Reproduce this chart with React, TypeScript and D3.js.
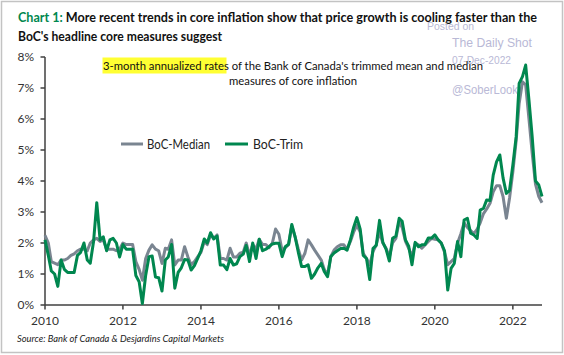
import React from "react";
import * as d3 from "d3";

const startYear = 2010;
const startMonth = 0;

const trimValues: number[] = [
  2.1, 1.6, 1.1, 1.0, 0.6, 1.45, 1.15, 1.05, 1.05, 1.05, 1.6, 1.7,
  2.0, 1.45, 1.35, 2.05, 3.3, 2.1, 2.2, 1.75, 2.1, 2.15, 2.0, 1.55,
  1.95, 1.8, 1.8, 1.8, 0.95, 0.75, 0.05, 0.95, 1.56, 1.58, 0.9, 0.88,
  0.45, 1.45, 1.55, 1.95, 0.54, 1.05, 1.2, 1.47, 1.45, 1.13, 1.27, 1.5,
  1.75, 2.13, 2.0, 2.33, 2.13, 2.22, 1.29, 1.29, 1.14, 1.5, 1.29, 1.33,
  1.56, 1.64, 1.92, 1.4, 2.0, 1.5, 2.12, 1.75, 1.8, 1.88, 1.97, 1.99,
  1.99, 1.56, 1.88, 1.96, 2.6, 2.2, 1.7, 1.24, 1.24, 1.3, 0.86, 1.0,
  1.2, 1.34, 1.08, 0.91, 1.56, 1.68, 1.75, 1.82, 1.83, 1.77, 2.1, 2.5,
  2.82, 2.45, 1.6, 1.5, 0.82, 1.83, 1.92, 2.73, 2.02, 1.8, 1.42, 2.15,
  2.22, 2.8, 2.7, 2.1, 1.9, 1.3, 2.02, 1.88, 1.94, 1.95, 2.16, 2.16,
  2.26, 2.1, 2.0, 1.75, 0.48, 1.18, 1.34, 2.05, 1.56, 2.74, 2.8, 2.32,
  2.26, 2.15, 3.06, 3.12, 3.39, 3.37, 4.19, 4.62, 4.84, 4.1, 3.6, 3.7,
  4.52, 5.43, 7.15, 7.37, 7.74, 6.61, 5.43, 4.0, 3.87, 3.5,
];

const medianValues: number[] = [
  2.25, 2.0, 1.4, 1.35, 1.3, 1.45, 1.45, 1.5, 1.6, 1.65, 1.75, 1.8,
  1.8, 1.75, 2.0, 2.1, 2.15, 2.05, 2.1, 1.8, 1.8, 1.8, 1.75, 1.8,
  2.0, 1.95, 1.95, 1.95, 1.4, 1.15, 0.8, 1.5, 1.77, 1.94, 1.8, 1.75,
  1.34, 1.83, 1.8, 2.1, 1.29, 1.45, 1.45, 1.88, 1.55, 1.3, 1.4, 1.55,
  1.7, 2.05, 1.95, 2.26, 2.15, 2.26, 1.5, 1.5, 1.45, 1.83, 1.55, 1.55,
  1.67, 1.7, 2.0, 1.6, 1.95, 1.8, 2.12, 1.95, 1.95, 1.85, 2.0, 2.45,
  2.28, 1.75, 1.85, 1.95, 2.55, 2.2, 1.8, 1.45, 1.67, 2.1, 1.94, 1.77,
  1.61, 1.45, 1.15, 0.97, 1.56, 1.77, 1.88, 1.94, 1.94, 1.8, 2.05, 2.35,
  2.58, 2.35, 1.67, 1.5, 1.29, 1.72, 1.94, 2.35, 2.0, 1.83, 1.56, 2.0,
  2.15, 2.69, 2.5, 2.05, 1.83, 1.56, 2.0, 1.94, 1.83, 1.94, 2.05, 2.15,
  2.12, 2.1, 2.0, 1.7, 1.3, 1.4, 1.5, 2.0, 2.3, 2.65, 2.5, 2.4,
  2.3, 2.45, 2.65, 2.95, 3.1, 3.28, 3.65, 3.85, 3.85, 3.5, 2.8, 3.45,
  4.3, 5.3, 6.5, 7.2, 7.1, 6.0, 4.9, 3.9, 3.5, 3.3,
];

const yTicks = [0, 1, 2, 3, 4, 5, 6, 7, 8];
const xTickYears = [2010, 2012, 2014, 2016, 2018, 2020, 2022];

const seriesNames = ["BoC-Median", "BoC-Trim"];

const titleLead = "Chart 1:";
const titleLine1 = " More recent trends in core inflation show that price growth is cooling faster than the";
const titleLine2 = "BoC's headline core measures suggest";
const noteLine1 = "3-month annualized rates of the Bank of Canada's trimmed mean and median";
const noteLine2 = "measures of core inflation";
const sourceText = "Source: Bank of Canada & Desjardins Capital Markets";

const GREEN = "#00874f";
const GRAY = "#7a8591";
const AXIS = "#404040";
const WM = "#b9b9d6";
const FONT = "Lato, 'Open Sans', sans-serif";

export default function App() {
  const W = 564;
  const H = 355;
  const dates = trimValues.map((_, i) => new Date(startYear, startMonth + i, 1));
  const x = d3
    .scaleTime()
    .domain([new Date(2010, 0, 1), new Date(2022, 9, 1)])
    .range([45, 542]);
  const y = d3.scaleLinear().domain([0, 8]).range([305, 57]);

  const line = d3
    .line<number>()
    .x((_, i) => x(dates[i]))
    .y((d) => y(d));

  const medPath = line(medianValues) || "";
  const trimPath = line(trimValues) || "";

  return (
    <svg
      width={W}
      height={H}
      style={{ position: "absolute", left: 0, top: 0, background: "#fff" }}
    >
      <rect x={0} y={0} width={W} height={H} fill="#fff" />
      <rect x={1.5} y={1.5} width={W - 3} height={H - 4} fill="none" stroke="#c3c3c3" strokeWidth={1.5} />

      {/* title */}
      <text x={18} y={22} fontFamily={FONT} fontSize={14} fontWeight={700} fill="#111" textLength={519} lengthAdjust="spacingAndGlyphs">
        <tspan fill={GREEN}>{titleLead}</tspan>
        <tspan>{titleLine1}</tspan>
      </text>
      <text x={18} y={41} fontFamily={FONT} fontSize={14} fontWeight={700} fill="#111" textLength={204} lengthAdjust="spacingAndGlyphs">
        {titleLine2}
      </text>

      {/* watermark */}
      <g fontFamily="'Liberation Sans', Arial, sans-serif" fill={WM}>
        <text x={427} y={30} fontSize={10.5} textLength={47} lengthAdjust="spacingAndGlyphs">Posted on</text>
        <text x={452} y={47} fontSize={13} textLength={80} lengthAdjust="spacingAndGlyphs">The Daily Shot</text>
        <text x={452} y={64} fontSize={10.5} textLength={59} lengthAdjust="spacingAndGlyphs">07-Dec-2022</text>
        <text x={452} y={94} fontSize={13} textLength={66} lengthAdjust="spacingAndGlyphs">@SoberLook</text>
      </g>

      {/* note */}
      <rect x={102.5} y={57.5} width={124} height={16} fill="#ffff33" />
      <text x={103} y={69.5} fontFamily={FONT} fontSize={12} fill="#111" textLength={380} lengthAdjust="spacingAndGlyphs">
        {noteLine1}
      </text>
      <text x={229} y={85} fontFamily={FONT} fontSize={12} fill="#111" textLength={128} lengthAdjust="spacingAndGlyphs">
        {noteLine2}
      </text>

      {/* legend */}
      <line x1={121} x2={143} y1={144} y2={144} stroke={GRAY} strokeWidth={3} />
      <text x={147} y={148.5} fontFamily={FONT} fontSize={12.5} fill="#222" textLength={63} lengthAdjust="spacingAndGlyphs">{seriesNames[0]}</text>
      <line x1={225} x2={248} y1={144} y2={144} stroke={GREEN} strokeWidth={3} />
      <text x={253} y={148.5} fontFamily={FONT} fontSize={12.5} fill="#222" textLength={50} lengthAdjust="spacingAndGlyphs">{seriesNames[1]}</text>

      {/* y axis */}
      <line x1={45} x2={45} y1={y(8)} y2={y(0)} stroke={AXIS} strokeWidth={1.5} />
      {yTicks.map((t) => (
        <g key={t}>
          <line x1={40.5} x2={45} y1={y(t)} y2={y(t)} stroke={AXIS} strokeWidth={1.5} />
          <text x={34} y={y(t) + 4} textAnchor="end" fontFamily={FONT} fontSize={12} fill="#333">
            {t + "%"}
          </text>
        </g>
      ))}

      {/* x axis */}
      <line x1={45} x2={542} y1={y(0)} y2={y(0)} stroke={AXIS} strokeWidth={1.5} />
      {xTickYears.map((yr) => (
        <g key={yr}>
          <line x1={x(new Date(yr, 0, 1))} x2={x(new Date(yr, 0, 1))} y1={y(0)} y2={y(0) + 4.5} stroke={AXIS} strokeWidth={1.5} />
          <text x={x(new Date(yr, 0, 1))} y={325} textAnchor="middle" fontFamily={FONT} fontSize={12} fill="#333">
            {yr}
          </text>
        </g>
      ))}

      {/* series */}
      <path d={medPath} fill="none" stroke={GRAY} strokeWidth={3} strokeLinejoin="round" />
      <path d={trimPath} fill="none" stroke={GREEN} strokeWidth={3} strokeLinejoin="round" />

      {/* source */}
      <text x={17} y={341.5} fontFamily={FONT} fontSize={10} fontStyle="italic" fill="#222" textLength={207} lengthAdjust="spacingAndGlyphs">
        {sourceText}
      </text>
    </svg>
  );
}
